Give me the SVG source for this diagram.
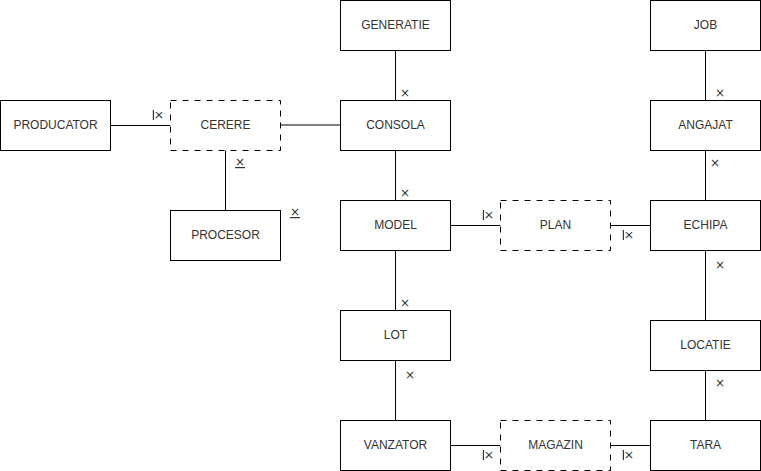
<svg xmlns="http://www.w3.org/2000/svg" width="761" height="471" viewBox="0 0 761 471">
<style>
.b{fill:#fff;stroke:#000;stroke-width:1}
.d{fill:#fff;stroke:#000;stroke-width:1;stroke-dasharray:6 6}
.t{font-family:"Liberation Sans",Arial,sans-serif;font-size:12px;fill:#333;text-anchor:middle;dominant-baseline:central}
.c{stroke:#000;stroke-width:1;fill:none}
.l{font-family:"DejaVu Sans",sans-serif;font-size:12px;fill:#333;text-anchor:middle}
</style>
<rect width="761" height="471" fill="#fff"/>
<g id="connectors">
<path class="c" d="M110.5 125.5H170.5"/>
<path class="c" d="M280.5 125H340.5" stroke="#555"/>
<path class="c" d="M225.5 150.5V210.5"/>
<path class="c" d="M395.5 50.5V100.5"/>
<path class="c" d="M395.5 150.5V200.5"/>
<path class="c" d="M450.5 225.5H500.5"/>
<path class="c" d="M610.5 225.5H650.5"/>
<path class="c" d="M395.5 250.5V310.5"/>
<path class="c" d="M395.5 360.5V420.5"/>
<path class="c" d="M450.5 445.5H500.5"/>
<path class="c" d="M610.5 445.5H650.5"/>
<path class="c" d="M705.5 50.5V100.5"/>
<path class="c" d="M705.5 150.5V200.5"/>
<path class="c" d="M705.5 250.5V320.5"/>
<path class="c" d="M705.5 370.5V420.5"/>
</g>
<g id="labels">
<text class="l" text-decoration="underline" transform="translate(155,115) rotate(90)">×</text>
<text class="l" text-decoration="underline" x="240" y="166">×</text>
<text class="l" text-decoration="underline" x="295" y="216">×</text>
<text class="l" x="405" y="97">×</text>
<text class="l" x="405" y="197">×</text>
<text class="l" text-decoration="underline" transform="translate(485,215) rotate(90)">×</text>
<text class="l" text-decoration="underline" transform="translate(625,235) rotate(90)">×</text>
<text class="l" x="405" y="307">×</text>
<text class="l" x="410" y="379">×</text>
<text class="l" text-decoration="underline" transform="translate(485,455) rotate(90)">×</text>
<text class="l" text-decoration="underline" transform="translate(625,455) rotate(90)">×</text>
<text class="l" x="720" y="97">×</text>
<text class="l" x="715" y="167">×</text>
<text class="l" x="720" y="269">×</text>
<text class="l" x="720" y="387">×</text>
</g>
<g id="GENERATIE"><rect class="b" x="340.5" y="0.5" width="110" height="50"/><text class="t" x="395.5" y="25">GENERATIE</text></g>
<g id="JOB"><rect class="b" x="650.5" y="0.5" width="110" height="50"/><text class="t" x="705.5" y="25">JOB</text></g>
<g id="PRODUCATOR"><rect class="b" x="0.5" y="100.5" width="110" height="50"/><text class="t" x="55.5" y="125">PRODUCATOR</text></g>
<g id="CERERE"><rect class="d" x="170.5" y="100.5" width="110" height="50"/><text class="t" x="225.5" y="125">CERERE</text></g>
<g id="CONSOLA"><rect class="b" x="340.5" y="100.5" width="110" height="50"/><text class="t" x="395.5" y="125">CONSOLA</text></g>
<g id="ANGAJAT"><rect class="b" x="650.5" y="100.5" width="110" height="50"/><text class="t" x="705.5" y="125">ANGAJAT</text></g>
<g id="PROCESOR"><rect class="b" x="170.5" y="210.5" width="110" height="50"/><text class="t" x="225.5" y="235">PROCESOR</text></g>
<g id="MODEL"><rect class="b" x="340.5" y="200.5" width="110" height="50"/><text class="t" x="395.5" y="225">MODEL</text></g>
<g id="PLAN"><rect class="d" x="500.5" y="200.5" width="110" height="50"/><text class="t" x="555.5" y="225">PLAN</text></g>
<g id="ECHIPA"><rect class="b" x="650.5" y="200.5" width="110" height="50"/><text class="t" x="705.5" y="225">ECHIPA</text></g>
<g id="LOT"><rect class="b" x="340.5" y="310.5" width="110" height="50"/><text class="t" x="395.5" y="335">LOT</text></g>
<g id="LOCATIE"><rect class="b" x="650.5" y="320.5" width="110" height="50"/><text class="t" x="705.5" y="345">LOCATIE</text></g>
<g id="VANZATOR"><rect class="b" x="340.5" y="420.5" width="110" height="50"/><text class="t" x="395.5" y="445">VANZATOR</text></g>
<g id="MAGAZIN"><rect class="d" x="500.5" y="420.5" width="110" height="50"/><text class="t" x="555.5" y="445">MAGAZIN</text></g>
<g id="TARA"><rect class="b" x="650.5" y="420.5" width="110" height="50"/><text class="t" x="705.5" y="445">TARA</text></g>
</svg>
